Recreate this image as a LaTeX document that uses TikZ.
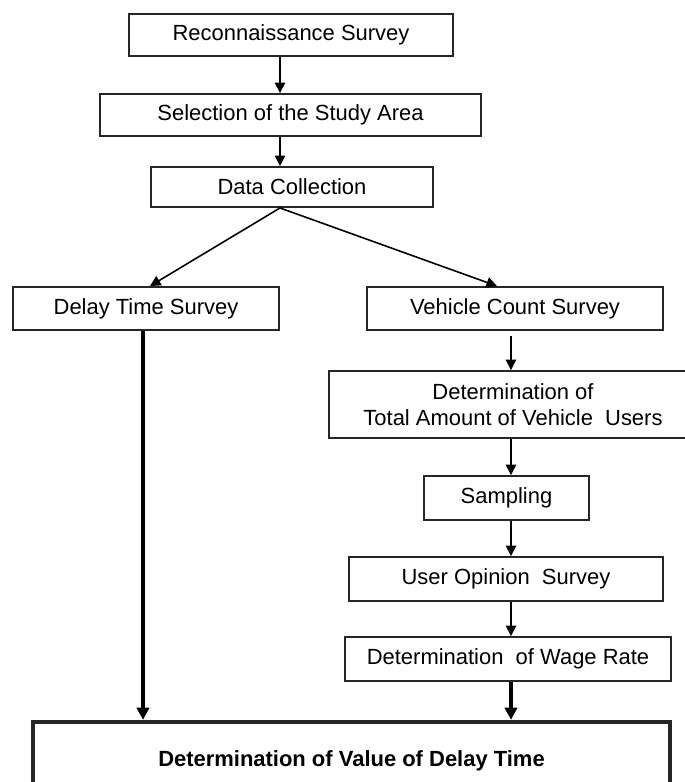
\documentclass[tikz,border=0pt]{standalone}
\usepackage{fontspec}
\setmainfont{Liberation Sans}
\usepackage{tikz}
\usetikzlibrary{arrows.meta,positioning,calc}

\begin{document}
\begin{tikzpicture}[
    x=0.02cm, y=-0.02cm,
    box/.style={rectangle, draw=black!85, line width=1.1pt, fill=white,
                inner sep=0pt, align=center, font=\fontsize{12.5}{15}\selectfont},
    bigbox/.style={box, line width=2.4pt, font=\fontsize{12.5}{15}\selectfont\bfseries},
    arrow/.style={-{Triangle[length=6pt,width=6pt]}, line width=0.9pt},
    bigarrow/.style={-{Triangle[length=7pt,width=7pt]}, line width=2.4pt}
]
\useasboundingbox (0,0) rectangle (684,782);

% main column
\node[box, minimum width=6.48cm, minimum height=0.84cm] (recon) at (291,35) {Reconnaissance Survey};
\node[box, minimum width=7.62cm, minimum height=0.84cm] (select) at (290.5,115) {Selection of the Study Area};
\node[box, minimum width=5.64cm, minimum height=0.80cm] (collect) at (292,187) {Data Collection};

% two branches
\node[box, minimum width=5.32cm, minimum height=0.86cm] (delay) at (146,308.5) {Delay Time Survey};
\node[box, minimum width=5.92cm, minimum height=0.86cm] (vehicle) at (515,308.5) {Vehicle Count Survey};
\node[box, minimum width=7.36cm, minimum height=1.34cm] (total) at (513,404.5) {Determination of\\Total Amount of Vehicle~ Users};
\node[box, minimum width=3.30cm, minimum height=0.88cm] (sampling) at (506.5,498) {Sampling};
\node[box, minimum width=6.28cm, minimum height=0.88cm] (opinion) at (506,579) {User Opinion~ Survey};
\node[box, minimum width=6.52cm, minimum height=0.88cm] (wage) at (508,659) {Determination~ of Wage Rate};

\node[bigbox, minimum width=12.74cm, minimum height=1.56cm] (final) at (351.5,761) {Determination of Value of Delay Time};

\coordinate (spine) at (280,0);
\coordinate (rcol) at (511,0);
\coordinate (apex) at (collect.south -| spine);

\draw[arrow] (recon.south -| spine) -- (select.north -| spine);
\draw[arrow] (select.south -| spine) -- (collect.north -| spine);
\draw[arrow] (apex) -- ([xshift=0.08cm]delay.north);
\draw[arrow] (apex) -- ([xshift=-0.36cm]vehicle.north);

\draw[arrow] ([yshift=-0.1cm]vehicle.south -| rcol) -- (total.north -| rcol);
\draw[arrow] (total.south -| rcol) -- (sampling.north -| rcol);
\draw[arrow] (sampling.south -| rcol) -- (opinion.north -| rcol);
\draw[arrow] (opinion.south -| rcol) -- (wage.north -| rcol);

\draw[bigarrow] (wage.south -| rcol) -- (final.north -| rcol);
\draw[bigarrow] ([xshift=-0.06cm]delay.south) -- ([xshift=-0.06cm]final.north -| delay.south);

\end{tikzpicture}
\end{document}
